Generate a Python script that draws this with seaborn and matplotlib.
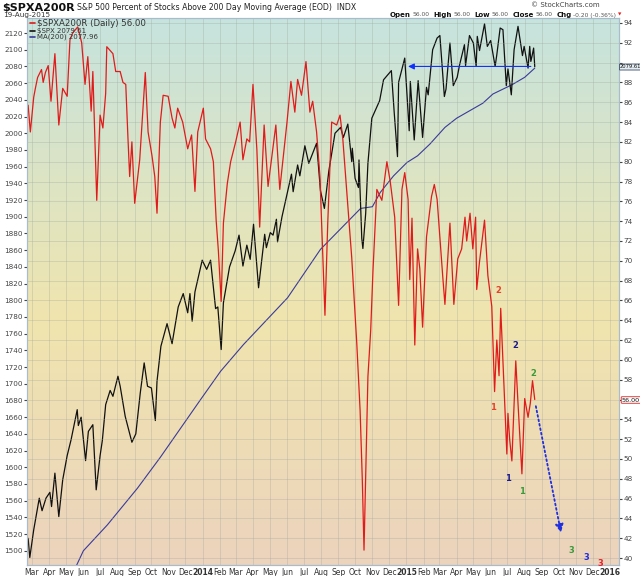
import matplotlib
matplotlib.use("Agg")
import matplotlib.pyplot as plt
from matplotlib.colors import LinearSegmentedColormap
import numpy as np
import pandas as pd
import seaborn as sns

# $SPXA200R (percent of stocks above 200 day MA), turning points
pct_dates = [
    "2013-02-22", "2013-02-26", "2013-03-04", "2013-03-07", "2013-03-11", "2013-03-18",
    "2013-03-21", "2013-03-25", "2013-03-30", "2013-04-04", "2013-04-11", "2013-04-18",
    "2013-04-25", "2013-05-03", "2013-05-08", "2013-05-13", "2013-05-22", "2013-05-29",
    "2013-06-04", "2013-06-09", "2013-06-15", "2013-06-18", "2013-06-25", "2013-07-01",
    "2013-07-06", "2013-07-11", "2013-07-13", "2013-07-24", "2013-07-29", "2013-08-06",
    "2013-08-11", "2013-08-16", "2013-08-20", "2013-08-23", "2013-08-27", "2013-09-01",
    "2013-09-10", "2013-09-20", "2013-09-25", "2013-10-02", "2013-10-07", "2013-10-11",
    "2013-10-17", "2013-10-22", "2013-10-31", "2013-11-07", "2013-11-12", "2013-11-17",
    "2013-11-26", "2013-12-05", "2013-12-12", "2013-12-18", "2013-12-23", "2014-01-02",
    "2014-01-06", "2014-01-15", "2014-01-20", "2014-01-25", "2014-01-29", "2014-02-03",
    "2014-02-07", "2014-02-14", "2014-02-20", "2014-03-01", "2014-03-09", "2014-03-14",
    "2014-03-21", "2014-03-26", "2014-04-01", "2014-04-08", "2014-04-13", "2014-04-21",
    "2014-04-28", "2014-05-05", "2014-05-12", "2014-05-19", "2014-06-01", "2014-06-08",
    "2014-06-15", "2014-06-20", "2014-06-27", "2014-07-05", "2014-07-12", "2014-07-17",
    "2014-07-24", "2014-07-30", "2014-08-08", "2014-08-13", "2014-08-20", "2014-08-29",
    "2014-09-04", "2014-09-09", "2014-09-16", "2014-09-25", "2014-10-04", "2014-10-10",
    "2014-10-14", "2014-10-17", "2014-10-24", "2014-10-29", "2014-11-02", "2014-11-09",
    "2014-11-18", "2014-11-27", "2014-12-03", "2014-12-11", "2014-12-18", "2014-12-24",
    "2014-12-29", "2015-01-04", "2015-01-07", "2015-01-11", "2015-01-16", "2015-01-21",
    "2015-01-25", "2015-01-30", "2015-02-06", "2015-02-15", "2015-02-20", "2015-02-25",
    "2015-03-07", "2015-03-11", "2015-03-20", "2015-03-27", "2015-04-03", "2015-04-10",
    "2015-04-16", "2015-04-19", "2015-04-25", "2015-04-30", "2015-05-05", "2015-05-07",
    "2015-05-12", "2015-05-21", "2015-05-27", "2015-06-03", "2015-06-08", "2015-06-12",
    "2015-06-16", "2015-06-19", "2015-06-23", "2015-06-30", "2015-07-02", "2015-07-05",
    "2015-07-09", "2015-07-16", "2015-07-20", "2015-07-27", "2015-08-01", "2015-08-07",
    "2015-08-11", "2015-08-15", "2015-08-19",
]
pct_values = [
    85.7, 83.0, 86.5, 87.4, 88.5, 89.3,
    88.0, 89.0, 89.7, 86.1, 90.9, 83.7,
    87.4, 86.6, 92.3, 93.0, 93.6, 92.0,
    87.8, 90.6, 85.1, 89.1, 76.1, 84.7,
    83.4, 86.9, 91.6, 90.9, 89.1, 89.1,
    88.0, 87.8, 82.3, 78.5, 82.0, 75.8,
    80.2, 89.0, 83.0, 80.6, 78.5, 74.8,
    84.0, 86.7, 86.6, 84.4, 83.4, 85.4,
    84.0, 81.3, 82.7, 77.0, 83.0, 85.4,
    82.3, 81.3, 80.0, 74.1, 71.0, 65.9,
    73.8, 77.8, 80.0, 82.0, 84.0, 80.2,
    82.3, 82.0, 87.8, 81.2, 73.4, 83.7,
    77.5, 80.6, 83.7, 77.2, 84.0, 88.1,
    85.0, 88.3, 86.7, 90.1, 85.0, 86.1,
    83.0, 78.5, 64.5, 73.8, 84.0, 83.7,
    84.7, 82.3, 77.1, 70.3, 61.7, 54.9,
    47.8, 40.8, 58.3, 63.0, 68.9, 77.2,
    76.1, 80.0, 78.0, 74.4, 65.5, 77.2,
    78.9, 76.2, 68.1, 74.3, 61.5, 71.2,
    69.2, 63.3, 72.4, 76.5, 77.7, 76.2,
    68.5, 65.6, 73.8, 65.6, 70.2, 71.2,
    74.4, 72.0, 74.8, 71.2, 74.4, 67.1,
    69.9, 74.1, 68.5, 65.4, 56.8, 62.0,
    58.4, 65.2, 59.8, 50.5, 54.6, 52.0,
    49.8, 59.9, 55.6, 48.5, 56.1, 54.2,
    55.6, 57.9, 56.0,
]

# $SPX closes at swing points
spx_dates = [
    "2013-02-22", "2013-02-25", "2013-03-04", "2013-03-14", "2013-03-19", "2013-03-26",
    "2013-04-02", "2013-04-05", "2013-04-11", "2013-04-18", "2013-04-25", "2013-05-03",
    "2013-05-10", "2013-05-21", "2013-05-23", "2013-05-28", "2013-06-05", "2013-06-10",
    "2013-06-18", "2013-06-24", "2013-07-01", "2013-07-05", "2013-07-11", "2013-07-19",
    "2013-07-24", "2013-08-02", "2013-08-06", "2013-08-15", "2013-08-27", "2013-09-03",
    "2013-09-11", "2013-09-18", "2013-09-24", "2013-10-01", "2013-10-08", "2013-10-11",
    "2013-10-18", "2013-10-29", "2013-11-07", "2013-11-18", "2013-11-27", "2013-12-05",
    "2013-12-09", "2013-12-13", "2013-12-18", "2013-12-31", "2014-01-08", "2014-01-15",
    "2014-01-24", "2014-01-28", "2014-02-03", "2014-02-07", "2014-02-18", "2014-02-28",
    "2014-03-07", "2014-03-14", "2014-03-21", "2014-03-27", "2014-04-02", "2014-04-11",
    "2014-04-22", "2014-04-25", "2014-05-02", "2014-05-07", "2014-05-13", "2014-05-15",
    "2014-05-23", "2014-06-09", "2014-06-12", "2014-06-20", "2014-06-24", "2014-07-03",
    "2014-07-10", "2014-07-24", "2014-07-31", "2014-08-07", "2014-08-15", "2014-08-26",
    "2014-09-05", "2014-09-10", "2014-09-18", "2014-09-25", "2014-09-26", "2014-10-01",
    "2014-10-07", "2014-10-08", "2014-10-13", "2014-10-15", "2014-10-20", "2014-10-24",
    "2014-10-31", "2014-11-14", "2014-11-21", "2014-12-05", "2014-12-10", "2014-12-16",
    "2014-12-18", "2014-12-29", "2015-01-06", "2015-01-08", "2015-01-15", "2015-01-22",
    "2015-01-30", "2015-02-02", "2015-02-06", "2015-02-09", "2015-02-17", "2015-02-25",
    "2015-03-02", "2015-03-10", "2015-03-13", "2015-03-20", "2015-03-26", "2015-04-02",
    "2015-04-06", "2015-04-15", "2015-04-17", "2015-04-24", "2015-05-01", "2015-05-06",
    "2015-05-08", "2015-05-12", "2015-05-21", "2015-05-26", "2015-06-01", "2015-06-09",
    "2015-06-12", "2015-06-18", "2015-06-23", "2015-06-29", "2015-07-02", "2015-07-08",
    "2015-07-13", "2015-07-20", "2015-07-28", "2015-07-31", "2015-08-07", "2015-08-10",
    "2015-08-12", "2015-08-14", "2015-08-17", "2015-08-19",
]
spx_values = [
    1515, 1492, 1525, 1563, 1548, 1563,
    1570, 1553, 1593, 1541, 1585, 1614,
    1633, 1669, 1650, 1660, 1608, 1643,
    1651, 1573, 1614, 1632, 1675, 1692,
    1685, 1709, 1697, 1661, 1630, 1640,
    1689, 1725, 1697, 1695, 1656, 1703,
    1745, 1772, 1748, 1792, 1808, 1785,
    1808, 1775, 1810, 1848, 1837, 1848,
    1790, 1792, 1741, 1797, 1840, 1859,
    1878, 1841, 1866, 1849, 1891, 1815,
    1879, 1863, 1881, 1878, 1897, 1870,
    1900, 1951, 1930, 1962, 1949, 1985,
    1964, 1988, 1931, 1910, 1955, 2000,
    2007, 1995, 2011, 1966, 1982, 1946,
    1935, 1968, 1874, 1862, 1904, 1964,
    2018, 2039, 2064, 2075, 2026, 1972,
    2061, 2090, 2003, 2062, 1992, 2063,
    1995, 2021, 2055, 2046, 2100, 2114,
    2117, 2044, 2053, 2108, 2057, 2067,
    2081, 2106, 2081, 2117, 2108, 2080,
    2116, 2099, 2131, 2104, 2111, 2080,
    2094, 2126, 2124, 2057, 2077, 2046,
    2100, 2128, 2093, 2104, 2078, 2104,
    2086, 2092, 2102, 2079.61,
]

# MA(200) of $SPX
ma_dates = [
    "2013-05-18", "2013-06-01", "2013-07-14", "2013-09-06", "2013-10-17", "2013-12-28",
    "2014-02-02", "2014-03-15", "2014-06-02", "2014-07-31", "2014-10-11", "2014-11-01",
    "2014-11-15", "2014-12-09", "2015-01-02", "2015-01-21", "2015-02-12", "2015-03-11",
    "2015-04-01", "2015-05-18", "2015-06-05", "2015-07-09", "2015-08-01", "2015-08-19",
]
ma_values = [
    1480, 1500, 1531, 1575, 1612, 1681,
    1715, 1747, 1803, 1861, 1910, 1912,
    1929, 1949, 1965, 1973, 1987, 2007,
    2018, 2036, 2047, 2058, 2067, 2077.96,
]

# wave count labels drawn on the percent scale
wave_labels = ["1", "2", "2", "1", "2", "1", "3", "3", "3"]
wave_dates = ["2015-06-05", "2015-06-14", "2015-07-16", "2015-07-02", "2015-08-17",
              "2015-07-27", "2015-10-24", "2015-11-19", "2015-12-14"]
wave_levels = [55.2, 67.0, 61.5, 48.0, 58.6, 46.7, 40.8, 40.1, 39.5]
wave_colors = ["#e8402a", "#e8402a", "#1a1a8c", "#1a1a8c", "#3a9a3a", "#3a9a3a",
               "#3a9a3a", "#1f2fe0", "#e8202a"]

sns.set_style("white")
plt.rcParams["font.family"] = ["DejaVu Sans"]

pct = pd.DataFrame({"date": pd.to_datetime(pct_dates), "value": pct_values})
spx = pd.DataFrame({"date": pd.to_datetime(spx_dates), "value": spx_values})
ma = pd.DataFrame({"date": pd.to_datetime(ma_dates), "value": ma_values})

W, H = 640, 576
fig = plt.figure(figsize=(6.4, 5.76), dpi=100)
rect = [27 / W, 11 / H, (619 - 27) / W, (565 - 18) / H]

# gradient background
bg = fig.add_axes(rect, zorder=-1)
cmap = LinearSegmentedColormap.from_list(
    "sc", [(0, "#ecd3bd"), (0.45, "#f0e5ae"), (1.0, "#c6e3de")])
bg.imshow(np.linspace(0, 1, 256).reshape(-1, 1), cmap=cmap, origin="lower",
          aspect="auto", extent=[0, 1, 0, 1])
bg.axis("off")

ax = fig.add_axes(rect)
ax.patch.set_alpha(0)
ax2 = ax.twinx()
ax2.patch.set_alpha(0)

sns.lineplot(data=ma, x="date", y="value", ax=ax, color="#3a3a9a", linewidth=0.8,
             estimator=None)
sns.lineplot(data=spx, x="date", y="value", ax=ax, color="#111111", linewidth=0.9,
             estimator=None)
sns.lineplot(data=pct, x="date", y="value", ax=ax2, color="#e01b1b", linewidth=0.9,
             estimator=None)

xmin, xmax = pd.Timestamp("2013-02-20"), pd.Timestamp("2016-01-17")
ax.set_xlim(xmin, xmax)
ax.set_ylim(1483, 2138)
ax2.set_ylim(39.3, 94.5)

# month ticks, years in bold
months = pd.date_range("2013-03-01", "2016-01-01", freq="MS")
ax.set_xticks(months)
ax.set_xticklabels([str(m.year) if m.month == 1 else m.strftime("%b") for m in months])
for m, lab in zip(months, ax.get_xticklabels()):
    if m.month == 1:
        lab.set_fontweight("bold")
        lab.set_color("#111111")
ax.tick_params(axis="x", labelsize=5.5, length=0, pad=2, colors="#333333")

ax.set_yticks(np.arange(1500, 2121, 20))
ax.tick_params(axis="y", labelsize=5.2, length=2, pad=1, colors="#444444")
pct_ticks = np.arange(40, 95, 2)
ax2.set_yticks(pct_ticks)
# 90 and 56 sit under the last-value boxes
ax2.set_yticklabels(["" if t in (90, 56) else str(t) for t in pct_ticks])
ax2.tick_params(axis="y", labelsize=5.2, length=2, pad=1, colors="#444444")

ax.grid(axis="x", color="#9aa59a", alpha=0.35, linewidth=0.6)
ax.grid(axis="y", visible=False)
ax2.grid(axis="y", color="#9aa59a", alpha=0.35, linewidth=0.6)
ax2.grid(axis="x", visible=False)
for a in (ax, ax2):
    a.set_xlabel("")
    a.set_ylabel("")
    for s in a.spines.values():
        s.set_color("#a8bccb")
        s.set_linewidth(0.8)

# support line and projected drop
ax.annotate("", xy=(pd.Timestamp("2014-12-30"), 2080),
            xytext=(pd.Timestamp("2015-08-17"), 2080),
            arrowprops=dict(arrowstyle="-|>", color="#1030ff", lw=0.8,
                            mutation_scale=9))
ax2.annotate("", xy=(pd.Timestamp("2015-10-06"), 42.3),
             xytext=(pd.Timestamp("2015-08-20"), 55.6),
             arrowprops=dict(arrowstyle="-|>", color="#2030e0", lw=1.3,
                             linestyle=(0, (1, 1.5)), mutation_scale=12))

for lab, d, lvl, c in zip(wave_labels, wave_dates, wave_levels, wave_colors):
    ax2.text(pd.Timestamp(d), lvl, lab, color=c, fontsize=6, fontweight="bold",
             ha="center", va="center")


def fx(px):
    return px / W


def fy(py):
    return 1 - py / H


# last value boxes on the right axis
fig.text(fx(620), fy(67), "2079.61", fontsize=3.7, va="center", ha="left",
         color="#111111",
         bbox=dict(boxstyle="round,pad=0.1", fc="#e6eef2", ec="#3a4a6a", lw=0.6))
fig.text(fx(622), fy(400), "56.00", fontsize=4.6, va="center", ha="left",
         color="#111111",
         bbox=dict(boxstyle="round,pad=0.12", fc="white", ec="#e02020", lw=0.6))

# header
fig.text(fx(2), fy(8), "$SPXA200R", fontsize=8, fontweight="bold", va="center",
         color="#111111")
fig.text(fx(77), fy(7), "S&P 500 Percent of Stocks Above 200 Day Moving Average (EOD)  INDX",
         fontsize=5.6, va="center", color="#222222")
fig.text(fx(3), fy(15), "19-Aug-2015", fontsize=5.2, va="center", color="#333333")
fig.text(fx(600), fy(5), "\u00a9 StockCharts.com", fontsize=5, va="center", ha="right",
         color="#444444")

# quote line, pieces chained left to right by measured width
pieces = [("Open", True), ("56.00", False), ("High", True), ("56.00", False),
          ("Low", True), ("56.00", False), ("Close", True), ("56.00", False),
          ("Chg", True), ("-0.20 (-0.36%)", False)]
renderer = fig.canvas.get_renderer()
cur = 390
for txt, bold in pieces:
    t = fig.text(fx(cur), fy(15), txt, fontsize=5 if bold else 4.3,
                 fontweight="bold" if bold else "normal", va="center",
                 color="#111111" if bold else "#555555")
    bb = t.get_window_extent(renderer)
    cur = bb.x1 + (1.5 if bold else 4)
fig.text(fx(cur - 2), fy(15), "\u25bc", fontsize=3.2, va="center", color="#e02020")

# legend
legend_rows = [(23, "#e01b1b", "$SPXA200R (Daily) 56.00", 6.2),
               (31, "#111111", "$SPX 2079.61", 5),
               (37, "#3a3a9a", "MA(200) 2077.96", 5)]
for py, c, txt, fs in legend_rows:
    fig.add_artist(plt.Line2D([fx(30), fx(35)], [fy(py), fy(py)], color=c, lw=1.2))
    fig.text(fx(37), fy(py), txt, fontsize=fs, va="center", color="#333333")

fig.savefig("out.png", dpi=100)
